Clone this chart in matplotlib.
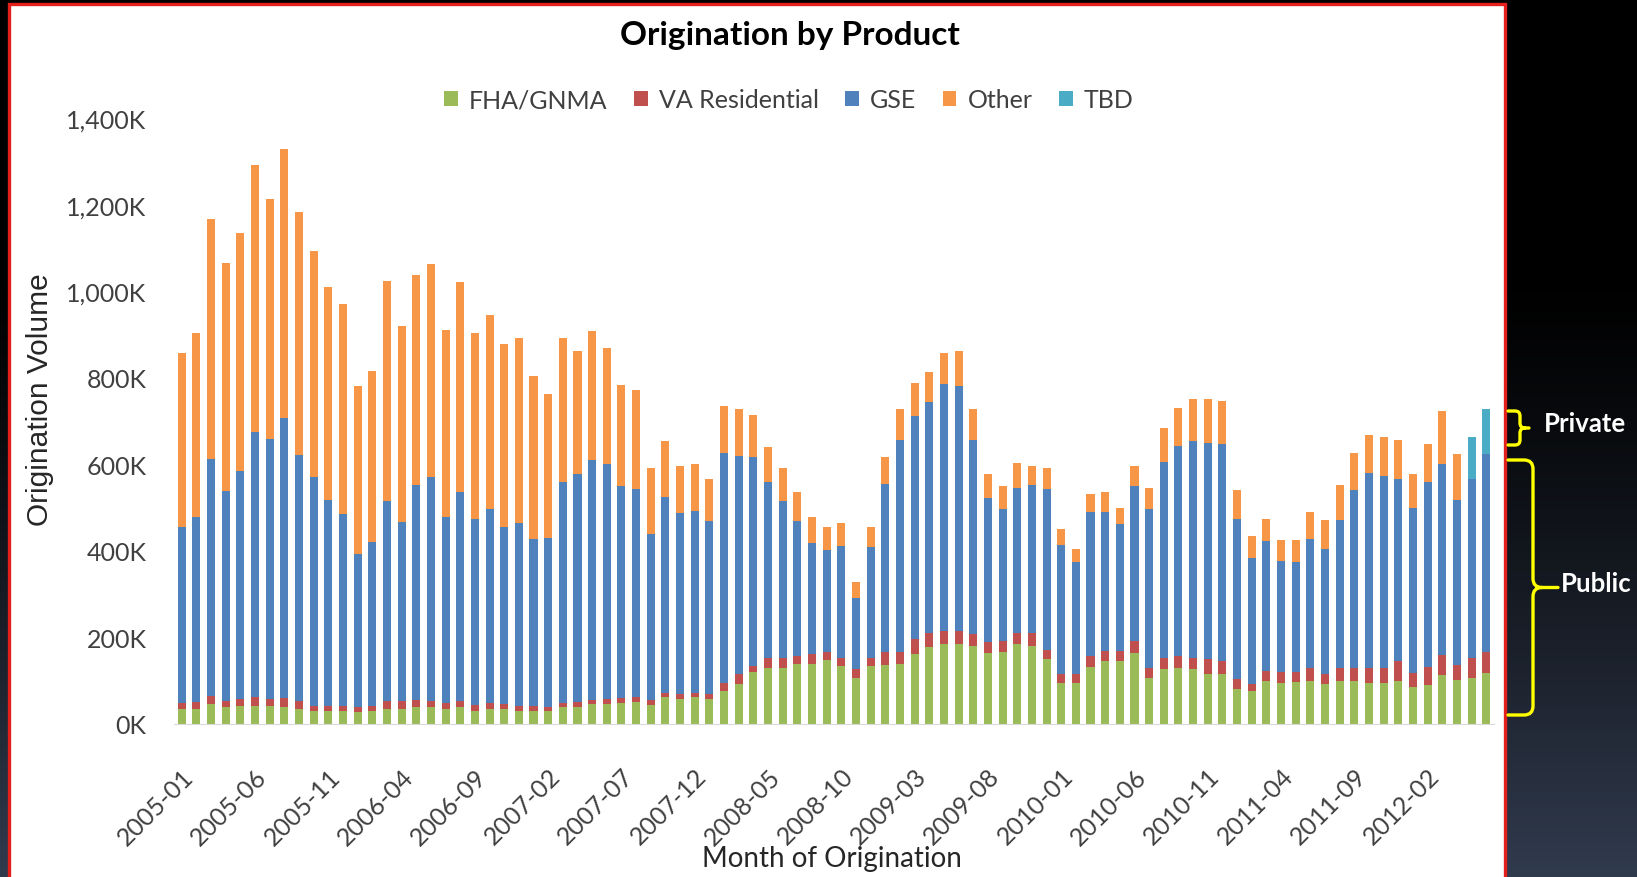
import numpy as np
import matplotlib.pyplot as plt
from matplotlib.patches import Rectangle, Patch, PathPatch
from matplotlib.path import Path
from matplotlib.colors import LinearSegmentedColormap

plt.rcParams["font.family"] = ["Lato", "DejaVu Sans"]

# monthly origination volume by product, thousands of loans (2005-01 .. 2012-06)
months = [f"{y}-{m:02d}" for y in range(2005, 2013) for m in range(1, 13)][:90]

fha = [34, 34, 46, 38, 42, 42, 42, 40, 34, 30, 30, 30, 28, 30, 34, 34, 38, 38,
       34, 38, 30, 34, 34, 30, 30, 30, 38, 38, 46, 46, 48, 51, 43, 61, 57, 61,
       57, 76, 92, 119, 130, 130, 139, 138, 148, 134, 107, 134, 136, 138, 162,
       178, 185, 185, 180, 163, 166, 184, 181, 150, 94, 94, 132, 145, 145, 163,
       107, 126, 130, 126, 115, 115, 81, 76, 99, 95, 96, 99, 92, 99, 99, 94, 94,
       99, 85, 90, 112, 101, 107, 117]
va = [15, 17, 19, 15, 15, 19, 15, 19, 19, 12, 12, 12, 10, 12, 19, 19, 18, 15,
      15, 15, 13, 15, 12, 12, 12, 8, 11, 13, 10, 11, 11, 10, 13, 11, 12, 11,
      12, 18, 23, 15, 23, 23, 18, 23, 19, 19, 19, 19, 29, 27, 34, 33, 29, 29,
      28, 25, 26, 27, 30, 21, 21, 21, 24, 23, 23, 29, 23, 27, 27, 27, 34, 30,
      23, 16, 24, 24, 23, 30, 24, 30, 30, 35, 35, 47, 33, 41, 46, 36, 46, 49]
gse = [405, 428, 547, 486, 528, 614, 601, 649, 568, 528, 476, 443, 354, 379,
       463, 413, 496, 517, 428, 482, 431, 448, 409, 423, 386, 392, 511, 526,
       553, 544, 490, 481, 384, 453, 418, 420, 399, 531, 505, 482, 405, 361,
       312, 258, 235, 257, 166, 255, 389, 491, 515, 532, 571, 568, 449, 335,
       304, 335, 341, 372, 298, 258, 334, 322, 294, 358, 366, 452, 486, 501,
       501, 502, 369, 291, 300, 258, 255, 298, 289, 343, 412, 451, 443, 421,
       382, 428, 442, 381, 414, 458]
other = [403, 425, 556, 527, 550, 616, 555, 620, 563, 523, 492, 486, 388, 395,
         508, 453, 486, 492, 433, 487, 430, 449, 424, 428, 377, 332, 333, 284,
         299, 268, 234, 229, 152, 128, 110, 109, 99, 109, 107, 97, 83, 77, 66,
         58, 53, 54, 35, 47, 62, 72, 78, 70, 73, 79, 70, 54, 53, 56, 45, 49, 38,
         32, 41, 45, 38, 47, 49, 78, 88, 98, 102, 99, 68, 51, 51, 49, 52, 62,
         67, 80, 85, 87, 90, 90, 77, 87, 124, 106, 0, 0]
tbd = [0] * 88 + [95, 104]

series = [("FHA/GNMA", fha, "#9BBB59"),
          ("VA Residential", va, "#C0504D"),
          ("GSE", gse, "#4F81BD"),
          ("Other", other, "#F79646"),
          ("TBD", tbd, "#4BACC6")]

y_ticks = [0, 200, 400, 600, 800, 1000, 1200, 1400]

W, H = 1637, 878
fig = plt.figure(figsize=(W / 100, H / 100), dpi=100)

# slide background, panel and the public/private brackets, in pixel units
bg = fig.add_axes([0, 0, 1, 1])
bg.set_xlim(0, W)
bg.set_ylim(H, 0)
bg.axis("off")
t = np.linspace(0, 1, 256)
grad = np.clip((t - 0.3) / 0.7, 0, 1) ** 1.3
bg_cmap = LinearSegmentedColormap.from_list("slide", ["#000000", "#313b4e"])
bg.imshow(grad[:, None], extent=[0, W, H, 0], aspect="auto", cmap=bg_cmap,
          vmin=0, vmax=1, zorder=0)
bg.add_patch(Rectangle((9, 5), 1496, H + 10, facecolor="white",
                       edgecolor="#e3201b", linewidth=2.4, zorder=1))


def brace(ax, x0, xv, xt, y0, y1, r):
    ym = (y0 + y1) / 2
    verts = [(x0, y0), (xv - r, y0), (xv, y0), (xv, y0 + r),
             (xv, ym - r), (xv, ym), (xv + r, ym), (xt, ym),
             (xv + r, ym), (xv, ym), (xv, ym + r),
             (xv, y1 - r), (xv, y1), (xv - r, y1), (x0, y1)]
    codes = [Path.MOVETO, Path.LINETO, Path.CURVE3, Path.CURVE3,
             Path.LINETO, Path.CURVE3, Path.CURVE3, Path.LINETO,
             Path.MOVETO, Path.CURVE3, Path.CURVE3,
             Path.LINETO, Path.CURVE3, Path.CURVE3, Path.LINETO]
    ax.add_patch(PathPatch(Path(verts, codes), fill=False, edgecolor="#ffff00",
                           linewidth=2.4, capstyle="round", zorder=3))


brace(bg, 1508, 1520, 1529, 412, 446, 5)
brace(bg, 1508, 1533, 1558, 461, 716, 9)
bg.text(1544, 424, "Private", color="white", fontsize=18.5, fontweight="bold",
        ha="left", va="center", zorder=3)
bg.text(1561, 584, "Public", color="white", fontsize=18.5, fontweight="bold",
        ha="left", va="center", zorder=3)

# stacked monthly bars
ax = fig.add_axes([174.4 / W, 1 - 724.8 / H, 1319.2 / W, 605.5 / H])
ax.set_facecolor("none")
x = np.arange(len(months))
bottom = np.zeros(len(months))
handles = []
for name, vals, color in series:
    vals = np.array(vals, dtype=float)
    ax.bar(x, vals, width=0.55, bottom=bottom, color=color, linewidth=0)
    bottom += vals
    handles.append(Patch(facecolor=color, label=name))

ax.set_xlim(-0.5, len(months) - 0.5)
ax.set_ylim(0, 1400)
ax.set_yticks(y_ticks)
ax.set_yticklabels([f"{v:,}K" for v in y_ticks])
ax.set_xticks(x[::5])
ax.set_xticklabels(months[::5], rotation=45, ha="right", va="top",
                   rotation_mode="anchor")
ax.tick_params(axis="both", length=0, colors="#404040")
ax.tick_params(axis="y", pad=20, labelsize=18)
ax.tick_params(axis="x", pad=29, labelsize=18)
for s in ["top", "right", "left"]:
    ax.spines[s].set_visible(False)
ax.spines["bottom"].set_color("#d9d9d9")
ax.spines["bottom"].set_linewidth(0.8)

fig.text(790 / W, 1 - 35 / H, "Origination by Product", ha="center",
         va="center", fontsize=24, fontweight="bold", color="black")
fig.text(832 / W, 1 - 859 / H, "Month of Origination", ha="center",
         va="center", fontsize=20, color="#262626")
fig.text(40 / W, 1 - 400 / H, "Origination Volume", ha="center", va="center",
         rotation=90, fontsize=21.5, color="#262626",
         family=["Liberation Sans", "DejaVu Sans"])

fig.legend(handles=handles, loc="center", bbox_to_anchor=(0.482, 1 - 101 / H),
           ncol=5, frameon=False, fontsize=18, handlelength=0.55,
           handleheight=0.55, handletextpad=0.45, columnspacing=1.05,
           labelcolor="#404040")

fig.savefig("out.png", dpi=100)
